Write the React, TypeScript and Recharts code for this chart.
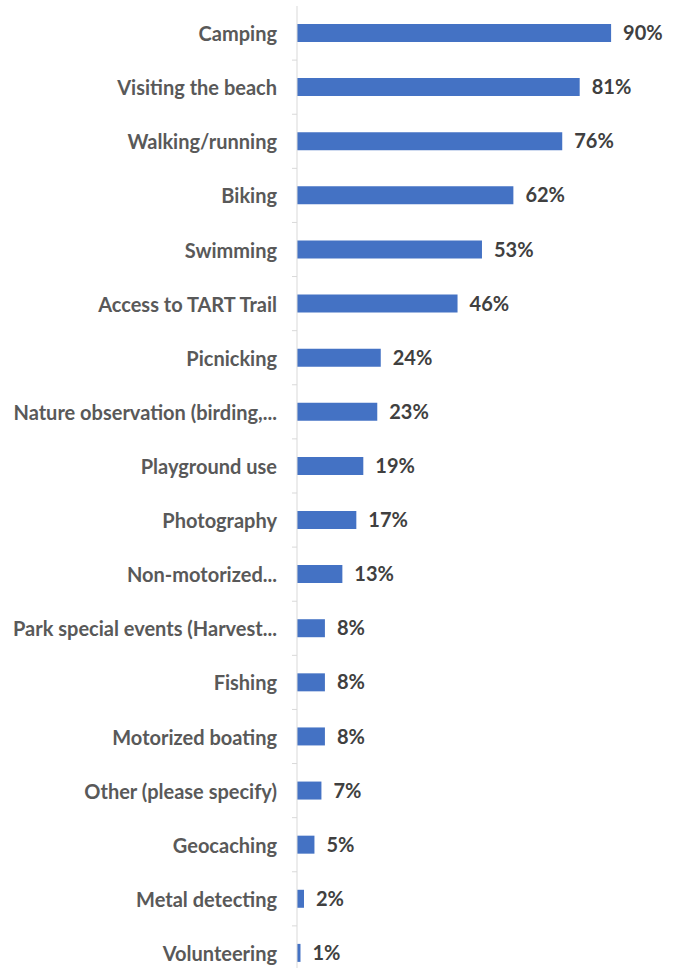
import React from "react";
import { BarChart, Bar, XAxis, YAxis, LabelList } from "recharts";

const activities = [
  "Camping",
  "Visiting the beach",
  "Walking/running",
  "Biking",
  "Swimming",
  "Access to TART Trail",
  "Picnicking",
  "Nature observation (birding,...",
  "Playground use",
  "Photography",
  "Non-motorized...",
  "Park special events (Harvest...",
  "Fishing",
  "Motorized boating",
  "Other (please specify)",
  "Geocaching",
  "Metal detecting",
  "Volunteering",
];

const percents = [90, 81, 76, 62, 53, 46, 24, 23, 19, 17, 13, 8, 8, 8, 7, 5, 2, 1];

const data = activities.map((name, i) => ({ name, value: percents[i] }));

const CHART_H = 980;
const TOP = 6;
const BAND = (CHART_H - TOP) / data.length;
const FONT = "Lato, Roboto, sans-serif";

function CategoryTick(props: any) {
  const { x, y, payload } = props;
  return (
    <g>
      <text
        x={x}
        y={y}
        textAnchor="end"
        dominantBaseline="central"
        fill="#595959"
        fontSize={20}
        fontWeight={700}
        fontFamily={FONT}
      >
        {payload.value}
      </text>
      <line x1={x + 15} x2={x + 20} y1={y + BAND / 2} y2={y + BAND / 2} stroke="#d9d9d9" />
    </g>
  );
}

export default function App() {
  return (
    <div style={{ position: "absolute", top: 0, left: 0, width: 678, height: 968, overflow: "hidden", background: "#fff" }}>
      <BarChart
        width={678}
        height={CHART_H}
        data={data}
        layout="vertical"
        margin={{ top: TOP, right: 32, left: 0, bottom: 0 }}
      >
        <XAxis type="number" domain={[0, 100]} hide />
        <YAxis
          type="category"
          dataKey="name"
          width={297}
          axisLine={{ stroke: "#d9d9d9" }}
          tickLine={false}
          tickMargin={14}
          interval={0}
          tick={<CategoryTick />}
        />
        <Bar dataKey="value" fill="#4472C4" barSize={18} isAnimationActive={false}>
          <LabelList
            dataKey="value"
            position="right"
            offset={12}
            formatter={(v: any) => `${v}%`}
            fill="#404040"
            fontSize={20}
            fontWeight={700}
            fontFamily={FONT}
          />
        </Bar>
      </BarChart>
    </div>
  );
}
